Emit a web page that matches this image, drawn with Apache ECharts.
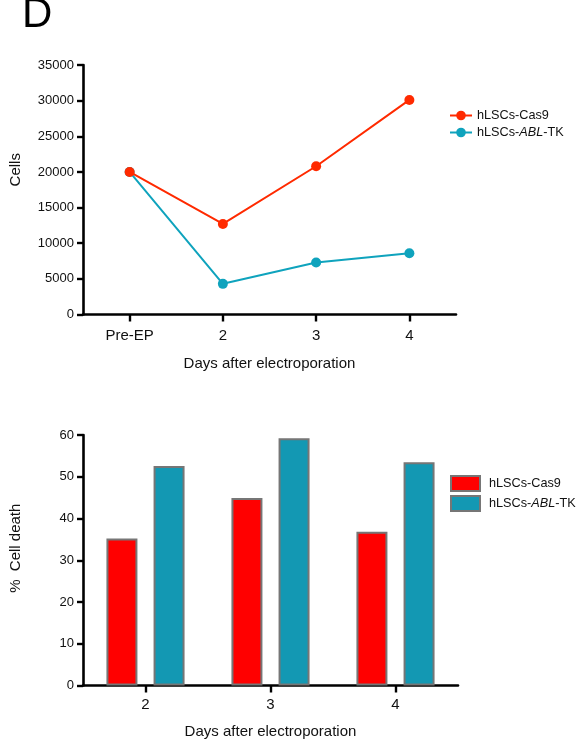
<!DOCTYPE html>
<html><head><meta charset="utf-8">
<script src="https://cdn.jsdelivr.net/npm/echarts@6/dist/echarts.min.js"></script>
<style>html,body{margin:0;padding:0;background:#fff}#c{width:582px;height:744px}</style>
</head><body><div id="c"></div>
<script>
var lineCategories = ['Pre-EP', '2', '3', '4'];
var cellsCas9 = [20000, 12700, 20800, 30100];
var cellsAblTk = [20000, 4300, 7300, 8600];
var yTicksCells = [0, 5000, 10000, 15000, 20000, 25000, 30000, 35000];

var barCategories = ['2', '3', '4'];
var deathCas9 = [35.2, 44.9, 36.8];
var deathAblTk = [52.6, 59.2, 53.5];
var yTicksDeath = [0, 10, 20, 30, 40, 50, 60];

var FONT = 'Liberation Sans, Arial, sans-serif';
var RED_LINE = '#ff2a00', TEAL_LINE = '#0fa3bd';
var RED_BAR = '#ff0000', TEAL_BAR = '#1398b3', BORDER = '#767676';

function legendFmt(name) {
  if (name.indexOf('abl') >= 0) return 'hLSCs-{i|ABL}-TK';
  return 'hLSCs-Cas9';
}
function legendText(padLeft) {
  return {fontFamily: FONT, fontSize: 12.7, color: '#111', padding: [0, 0, 0, padLeft],
    rich: {i: {fontStyle: 'italic', fontFamily: FONT, fontSize: 12.7, color: '#111'}}};
}

function yAxis(gi, ticks, name, pad) {
  return {
    type: 'value', gridIndex: gi, min: ticks[0], max: ticks[ticks.length - 1],
    interval: ticks[1] - ticks[0],
    name: name, nameLocation: 'middle', nameGap: 60, nameRotate: 90,
    nameTextStyle: {fontFamily: FONT, fontSize: 15, color: '#111', padding: pad},
    axisLine: {show: true, lineStyle: {color: '#000', width: 2.6}},
    axisTick: {show: true, length: 6, lineStyle: {color: '#000', width: 2.4}},
    axisLabel: {fontFamily: FONT, fontSize: 13, color: '#111', margin: 9,
      formatter: function (v) { return String(v); }},
    splitLine: {show: false}
  };
}
function xAxis(gi, cats, gap, margin) {
  return {
    type: 'category', gridIndex: gi, data: cats, boundaryGap: true,
    name: 'Days after electroporation', nameLocation: 'middle', nameGap: gap,
    nameTextStyle: {fontFamily: FONT, fontSize: 15, color: '#111'},
    axisLine: {show: true, lineStyle: {color: '#000', width: 2.6}},
    axisTick: {show: true, alignWithLabel: true, length: 7, lineStyle: {color: '#000', width: 2.4}},
    axisLabel: {fontFamily: FONT, fontSize: 15, color: '#111', margin: margin},
    splitLine: {show: false}
  };
}

var chart = echarts.init(document.getElementById('c'), null, {renderer: 'canvas'});
chart.setOption({
  animation: false,
  backgroundColor: '#fff',
  graphic: [{type: 'text', left: 22, top: -6,
    style: {text: 'D', fontFamily: FONT, fontSize: 42, fill: '#000'}}],
  grid: [
    {left: 82, right: 126, top: 65, bottom: 429.5, containLabel: false},
    {left: 82, right: 124, top: 435, bottom: 58.5, containLabel: false}
  ],
  xAxis: [xAxis(0, lineCategories, 42, 14), xAxis(1, barCategories, 39, 12)],
  yAxis: [yAxis(0, yTicksCells, 'Cells', [0, 0, 0, 40]), yAxis(1, yTicksDeath, '%  Cell death', [0, 0, 0, 24])],
  legend: [
    {data: ['line-cas9', 'line-abl'], left: 444, top: 104, orient: 'vertical',
      itemWidth: 22, itemHeight: 12, itemGap: 4, formatter: legendFmt, textStyle: legendText(0)},
    {data: [{name: 'bar-cas9', icon: 'rect'}, {name: 'bar-abl', icon: 'rect'}], left: 445, top: 470, orient: 'vertical',
      itemWidth: 29, itemHeight: 15, itemGap: 3, formatter: legendFmt, textStyle: legendText(4)}
  ],
  series: [
    {name: 'line-cas9', type: 'line', xAxisIndex: 0, yAxisIndex: 0, data: cellsCas9,
      symbol: 'circle', symbolSize: 10, lineStyle: {color: RED_LINE, width: 2},
      itemStyle: {color: RED_LINE}, z: 3},
    {name: 'line-abl', type: 'line', xAxisIndex: 0, yAxisIndex: 0, data: cellsAblTk,
      symbol: 'circle', symbolSize: 10, lineStyle: {color: TEAL_LINE, width: 2},
      itemStyle: {color: TEAL_LINE}, z: 2},
    {name: 'bar-cas9', type: 'bar', xAxisIndex: 1, yAxisIndex: 1, data: deathCas9,
      barWidth: 31, barGap: '52%',
      itemStyle: {color: RED_BAR, borderColor: BORDER, borderWidth: 2}},
    {name: 'bar-abl', type: 'bar', xAxisIndex: 1, yAxisIndex: 1, data: deathAblTk,
      barWidth: 31, barGap: '52%',
      itemStyle: {color: TEAL_BAR, borderColor: BORDER, borderWidth: 2}}
  ]
});
</script></body></html>
